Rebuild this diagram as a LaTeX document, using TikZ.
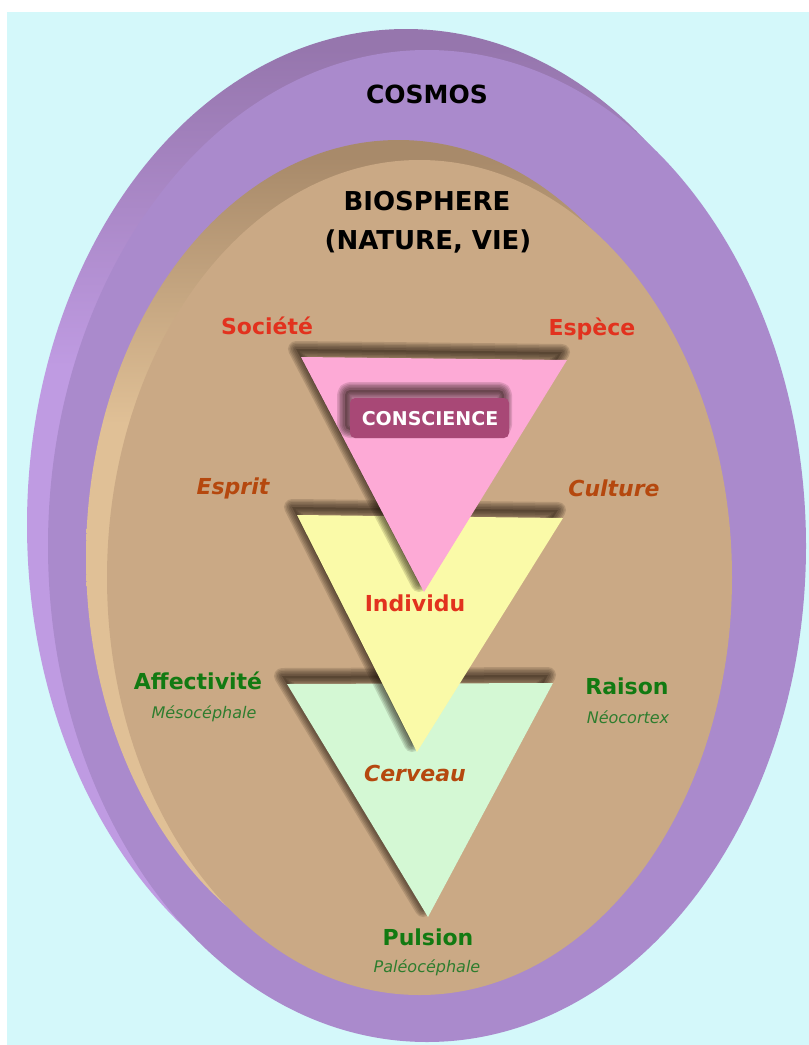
\documentclass[tikz,border=0pt]{standalone}
\usepackage{fontspec}
\setmainfont{DejaVu Sans}
\definecolor{bgcyan}{HTML}{D4F8FA}
\definecolor{cosmosfront}{HTML}{AA8ACC}
\definecolor{purplelight}{HTML}{BF9BE2}
\definecolor{purpledark}{HTML}{9676AD}
\definecolor{biofront}{HTML}{CAA985}
\definecolor{tanlight}{HTML}{E0C096}
\definecolor{tandark}{HTML}{A88A6A}
\definecolor{trpink}{HTML}{FDAAD6}
\definecolor{tryellow}{HTML}{FAFAA8}
\definecolor{trgreen}{HTML}{D4F8D4}
\definecolor{boxplum}{HTML}{A84876}
\definecolor{lblred}{HTML}{E2321E}
\definecolor{lblbrown}{HTML}{B5480E}
\definecolor{lblgreen}{HTML}{127A12}
\definecolor{subgreen}{HTML}{2E7D2E}
\definecolor{shadowcol}{HTML}{1E140A}
\pgfdeclareverticalshading{rimpurple}{100bp}{color(0bp)=(purplelight); color(58bp)=(purplelight); color(74bp)=(purpledark); color(100bp)=(purpledark)}
\pgfdeclareverticalshading{rimtan}{100bp}{color(0bp)=(tanlight); color(58bp)=(tanlight); color(74bp)=(tandark); color(100bp)=(tandark)}
\newcommand\softshadow[1]{%
  \begin{scope}[shift={(-5,-8)}]
    \foreach \w in {16,13,10,7,4}{\draw[line width=\w pt,shadowcol,opacity=0.14,line join=round] #1;}
    \fill[shadowcol,opacity=0.25] #1;
  \end{scope}}
\begin{document}
\begin{tikzpicture}[x=1pt,y=-1pt,
  titlelbl/.style={font=\bfseries\fontsize{25}{30}\selectfont,anchor=base,inner sep=0pt,text=black},
  redlbl/.style={font=\bfseries\fontsize{22}{26}\selectfont,anchor=base,inner sep=0pt,text=lblred},
  brownlbl/.style={font=\bfseries\itshape\fontsize{22}{26}\selectfont,anchor=base,inner sep=0pt,text=lblbrown},
  greenlbl/.style={font=\bfseries\fontsize{22}{26}\selectfont,anchor=base,inner sep=0pt,text=lblgreen},
  sublbl/.style={font=\itshape\fontsize{16}{19}\selectfont,anchor=base,inner sep=0pt,text=subgreen}]
\useasboundingbox (0,0) rectangle (809,1045);
\fill[white] (0,0) rectangle (809,1045);
\fill[bgcyan] (7,12) rectangle (809,1045);
% cosmos
\shade[shading=rimpurple] (406,525) ellipse [x radius=379, y radius=496];
\fill[cosmosfront] (427,546) ellipse [x radius=379, y radius=496];
% biosphere
\shade[shading=rimtan] (398.5,557.5) ellipse [x radius=312.5, y radius=417.5];
\fill[biofront] (419.5,577.5) ellipse [x radius=312.5, y radius=417.5];
% green triangle
\softshadow{(287,684) -- (553,683) -- (428,917) -- cycle}
\fill[trgreen] (287,684) -- (553,683) -- (428,917) -- cycle;
% yellow triangle
\softshadow{(297,515) -- (563,518) -- (417,752) -- cycle}
\fill[tryellow] (297,515) -- (563,518) -- (417,752) -- cycle;
% pink triangle
\softshadow{(301,357) -- (567,360) -- (424,592) -- cycle}
\fill[trpink] (301,357) -- (567,360) -- (424,592) -- cycle;
% conscience box
\softshadow{[rounded corners=5pt] (350,398) rectangle (509,438)}
\fill[boxplum,rounded corners=5pt] (350,398) rectangle (509,438);
% labels
\node[titlelbl] (cosmos) at (427,103) {COSMOS};
\node[titlelbl,font=\bfseries\fontsize{26}{30}\selectfont] (bio1) at (427,210) {BIOSPHERE};
\node[titlelbl,font=\bfseries\fontsize{26}{30}\selectfont] (bio2) at (428,249) {(NATURE, VIE)};
\node[redlbl] (societe) at (267,334) {Société};
\node[redlbl] (espece) at (592,335) {Espèce};
\node[font=\bfseries\fontsize{19}{22}\selectfont,anchor=base,inner sep=0pt,text=white] (conscience) at (430,425) {CONSCIENCE};
\node[brownlbl] (esprit) at (233,494) {Esprit};
\node[brownlbl] (culture) at (614,496) {Culture};
\node[redlbl] (individu) at (415,611) {Individu};
\node[greenlbl] (affect) at (198,689) {Affectivité};
\node[sublbl] (meso) at (204,718) {Mésocéphale};
\node[greenlbl] (raison) at (627,694) {Raison};
\node[sublbl] (neo) at (628,723) {Néocortex};
\node[brownlbl] (cerveau) at (415,781) {Cerveau};
\node[greenlbl] (pulsion) at (428,945) {Pulsion};
\node[sublbl] (paleo) at (427,972) {Paléocéphale};
\end{tikzpicture}
\end{document}
